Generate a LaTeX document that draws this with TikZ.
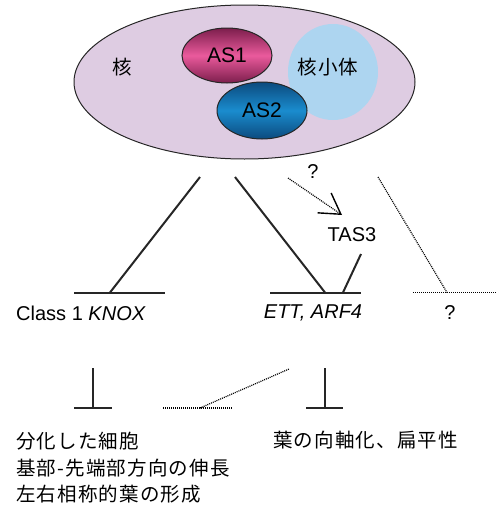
\documentclass[tikz,border=0pt]{standalone}
\usepackage{fontspec}
\setmainfont{Liberation Sans}
\newfontfamily\jpfont[LetterSpace=6]{Noto Sans CJK JP}
\usetikzlibrary{arrows.meta,shapes.geometric}
\definecolor{nucfill}{HTML}{DECCE2}
\definecolor{nucleolus}{HTML}{ADD5F0}
\definecolor{asonedark}{HTML}{7C1E4C}
\definecolor{asonelight}{HTML}{EA5A9C}
\definecolor{astwodark}{HTML}{0C4A7E}
\definecolor{astwolight}{HTML}{1A8CCE}
\begin{document}
\begin{tikzpicture}[x=1pt,y=-1pt,
  lbl/.style={font=\fontsize{20}{24}\selectfont, inner sep=0pt},
  jlbl/.style={font=\jpfont\fontsize{19.5}{26.5}\selectfont, inner sep=0pt, align=left},
  thick link/.style={line width=2pt, black!85},
  inhib/.style={line width=1.6pt, black!85},
  dotlink/.style={line width=1.2pt, dash pattern=on 1pt off 1pt, black},
  blob/.style={ellipse, draw=black!85, line width=1pt, inner sep=0pt}
]
\useasboundingbox (0,0) rectangle (496,506);

% nucleus
\node[blob, fill=nucfill, minimum width=341pt, minimum height=154pt] (nucleus) at (244.5,82) {};
\node[ellipse, fill=nucleolus, minimum width=90pt, minimum height=96pt, inner sep=0pt] (nucleolus) at (333,72) {};
\node[blob, top color=asonedark, bottom color=asonedark, middle color=asonelight,
      minimum width=90pt, minimum height=55pt, font=\fontsize{21}{24}\selectfont] (as1) at (227,55.5) {AS1};
\node[blob, top color=astwodark, bottom color=astwodark, middle color=astwolight,
      minimum width=90pt, minimum height=57pt, font=\fontsize{21}{24}\selectfont] (as2) at (262,110.5) {AS2};
\node[jlbl] (kaku) at (122,67) {核};
\node[jlbl] (kakusho) at (328,67) {核小体};

% labels
\node[lbl] (knox) at (81,313) {Class 1 \textit{KNOX}};
\node[lbl] (ett) at (313,313) {\textit{ETT, ARF4}};
\node[lbl] (qright) at (450,313) {?};
\node[lbl] (qtop) at (313,172) {?};
\node[lbl] (tas) at (352,235) {TAS3};

% coordinates
\coordinate (s1) at (200,177);
\coordinate (s2) at (235,177);
\coordinate (d1) at (288,178);
\coordinate (d1t) at (342,215);
\coordinate (d2) at (378,177);
\coordinate (kbar) at (110,292.5);
\coordinate (kbl) at (74,292.5);
\coordinate (kbr) at (165,292.5);
\coordinate (ebar) at (325,292.5);
\coordinate (ebl) at (270,292.5);
\coordinate (ebr) at (361,292.5);
\coordinate (tbar) at (343,292.5);
\coordinate (tstart) at (361,254);
\coordinate (qbar) at (447,292.5);
\coordinate (qbl) at (413,292.5);
\coordinate (qbr) at (496,292.5);

% upper connectors
\draw[thick link] (s1) -- (kbar);
\draw[thick link] (kbl) -- (kbr);
\draw[thick link] (s2) -- (ebar);
\draw[thick link] (ebl) -- (ebr);
\draw[thick link] (tstart) -- (tbar);
\draw[dotlink, -{Straight Barb[length=20pt, width=24pt, line width=1.4pt]}] (d1) -- (d1t);
\draw[dotlink] (d2) -- (qbar);
\draw[dotlink] (qbl) -- (qbr);

% lower inhibitions
\coordinate (lt) at (93,368);
\coordinate (lb) at (93,408);
\coordinate (lbl) at (74,408);
\coordinate (lbr) at (112,408);
\coordinate (rt) at (325,368);
\coordinate (rb) at (325,408);
\coordinate (rbl) at (306,408);
\coordinate (rbr) at (343,408);
\draw[inhib] (lt) -- (lb);
\draw[inhib] (lbl) -- (lbr);
\draw[inhib] (rt) -- (rb);
\draw[inhib] (rbl) -- (rbr);

\coordinate (dl) at (163,408);
\coordinate (dm) at (200,408);
\coordinate (dr) at (233,408);
\coordinate (du) at (289,369);
\draw[dotlink] (dl) -- (dr);
\draw[dotlink] (dm) -- (du);

% outcome texts
\node[jlbl, anchor=west] (leftout) at (16,468) {分化した細胞\\基部-先端部方向の伸長\\左右相称的葉の形成};
\node[jlbl, anchor=west] (rightout) at (273,440) {葉の向軸化、扁平性};
\end{tikzpicture}
\end{document}
